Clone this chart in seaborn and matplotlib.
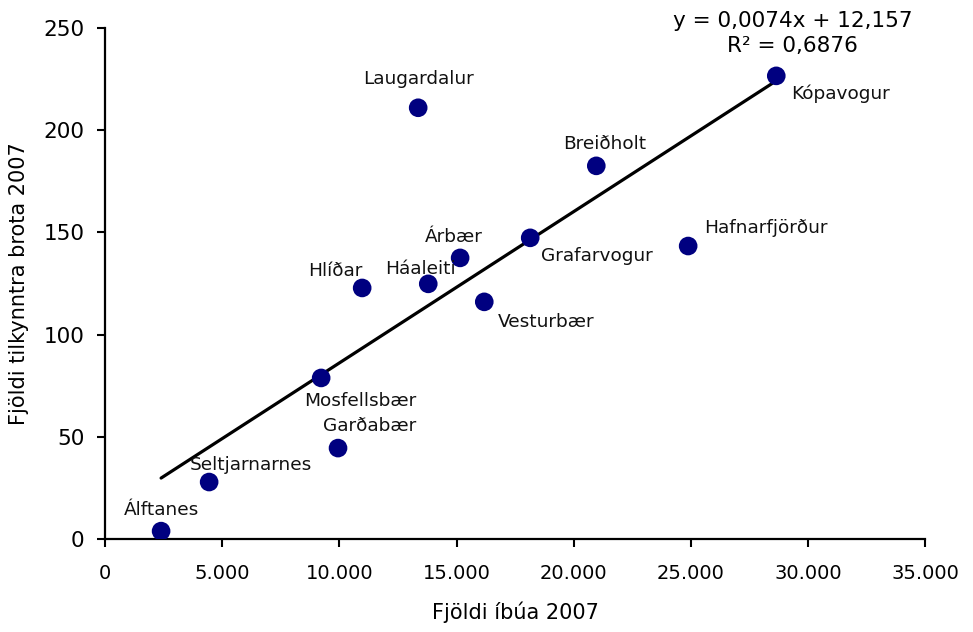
import numpy as np
import pandas as pd
import matplotlib
matplotlib.use("Agg")
import matplotlib.pyplot as plt
import seaborn as sns
from matplotlib.ticker import FuncFormatter

# data
places = ["Álftanes", "Seltjarnarnes", "Mosfellsbær", "Garðabær", "Hlíðar",
          "Laugardalur", "Háaleiti", "Árbær", "Vesturbær", "Grafarvogur",
          "Breiðholt", "Hafnarfjörður", "Kópavogur"]
residents = [2390, 4440, 9220, 9940, 10970, 13360, 13790, 15150, 16180,
             18140, 20960, 24880, 28640]
offences = [3.9, 27.9, 78.8, 44.5, 122.8, 210.9, 124.8, 137.5, 116.0,
            147.3, 182.5, 143.3, 226.5]

# trendline as printed on the chart
slope = 0.0074
intercept = 12.157
r_squared = 0.6876

# label offsets (pixels) relative to each point
label_dx = [0, 42, 39, 32, -27, 0, -8, -6, 62, 67, 8, 78, 64]
label_dy = [21, 17, -23, 22, 17, 29, 15, 21, -20, -18, 22, 18, -18]

df = pd.DataFrame({"Place": places, "Residents": residents, "Offences": offences})

sns.set_style("ticks")
plt.rcParams["font.family"] = ["DejaVu Sans"]
plt.rcParams["text.color"] = "black"
plt.rcParams["axes.labelcolor"] = "black"

fig = plt.figure(figsize=(9.73, 6.32), dpi=100)
ax = fig.add_axes([0.108, 0.147, 0.843, 0.809])

x_line = np.array([df["Residents"].min(), df["Residents"].max()])
trend = pd.DataFrame({"x": x_line, "y": slope * x_line + intercept})
sns.lineplot(data=trend, x="x", y="y", color="black", linewidth=2.3, ax=ax, zorder=2)

sns.scatterplot(data=df, x="Residents", y="Offences", color="#000080", s=180,
                edgecolor="none", ax=ax, zorder=3)

for name, x, y, dx, dy in zip(places, residents, offences, label_dx, label_dy):
    ax.annotate(name, (x, y), xytext=(dx, dy), textcoords="offset pixels",
                ha="center", va="center", fontsize=13.3, color="#111111")

ax.text(0.838, 1.013, f"y = {slope:.4f}x + {intercept:.3f}".replace(".", ","),
        transform=ax.transAxes, ha="center", va="center", fontsize=15.5)
ax.text(0.838, 0.965, f"R² = {r_squared:.4f}".replace(".", ","),
        transform=ax.transAxes, ha="center", va="center", fontsize=15.5)

ax.set_xlim(0, 35000)
ax.set_ylim(0, 250)
ax.set_xticks(range(0, 35001, 5000))
ax.set_yticks(range(0, 251, 50))
ax.xaxis.set_major_formatter(FuncFormatter(lambda v, p: f"{int(v):,}".replace(",", ".")))

ax.set_xlabel("Fjöldi íbúa 2007", fontsize=15, labelpad=13)
ax.set_ylabel("Fjöldi tilkynntra brota 2007", fontsize=15, labelpad=10)

ax.tick_params(axis="both", direction="out", length=6, width=1.5, colors="black")
ax.tick_params(axis="x", pad=12, labelsize=14)
ax.tick_params(axis="y", pad=9, labelsize=15.5)
for side in ["left", "bottom"]:
    ax.spines[side].set_linewidth(1.6)
    ax.spines[side].set_color("black")
sns.despine(ax=ax)

fig.savefig("out.png", dpi=100)
